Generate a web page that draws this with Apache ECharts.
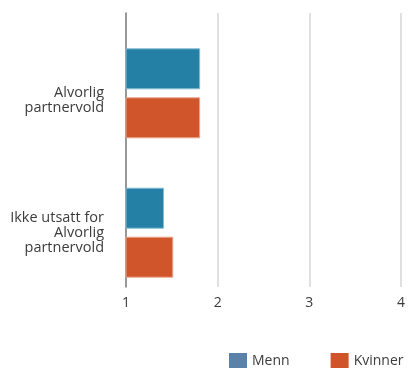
<!DOCTYPE html>
<html>
<head>
<meta charset="utf-8">
<script src="https://cdn.jsdelivr.net/npm/echarts@6/dist/echarts.min.js"></script>
<style>
  html, body { margin: 0; padding: 0; background: #ffffff; }
  #chart { width: 408px; height: 368px; }
</style>
</head>
<body>
<div id="chart"></div>
<script>
// Data
const categories = ['Alvorlig partnervold', 'Ikke utsatt for Alvorlig partnervold'];
const categoryLabels = ['\nAlvorlig\npartnervold', 'Ikke utsatt for\nAlvorlig\npartnervold'];
const seriesNames = ['Menn', 'Kvinner'];
const menn = [1.8, 1.41];
const kvinner = [1.8, 1.51];
const xTicks = [1, 2, 3, 4];

const FONT = 'Open Sans';
const TEXT = '#3c3c3c';
const chart = echarts.init(document.getElementById('chart'), null, { renderer: 'canvas' });

const xMin = xTicks[0], xMax = xTicks[xTicks.length - 1];

chart.setOption({
  animation: false,
  textStyle: { fontFamily: FONT },
  grid: [
    { left: 126, right: 4, top: 13, bottom: 81 },
    { left: 126, right: 4, top: 23.6, bottom: 65.6 }
  ],
  xAxis: [
    {
      gridIndex: 0, type: 'value', min: xMin, max: xMax, interval: 1,
      axisLine: { show: false }, axisTick: { show: false },
      splitLine: { show: true, lineStyle: { color: '#d6d6d6', width: 1.5 } },
      axisLabel: { color: TEXT, fontSize: 14, fontFamily: FONT, margin: 9 }
    },
    {
      gridIndex: 1, type: 'value', min: xMin, max: xMax, interval: 1, show: false,
      splitLine: { show: false }
    }
  ],
  yAxis: [
    {
      gridIndex: 0, type: 'category', data: categories, inverse: true,
      axisLine: { show: true, lineStyle: { color: '#808080', width: 1.5 } },
      axisTick: { show: false }, axisLabel: { show: false }
    },
    {
      gridIndex: 1, type: 'category', data: categories, inverse: true,
      axisLine: { show: false }, axisTick: { show: false },
      axisLabel: {
        color: TEXT, fontSize: 14.5, fontFamily: FONT, margin: 22, lineHeight: 15,
        align: 'right',
        formatter: (v, i) => categoryLabels[i]
      }
    }
  ],
  legend: {
    left: 229, top: 353, width: 400, padding: 0,
    itemWidth: 18, itemHeight: 16, itemGap: 41,
    icon: 'rect',
    textStyle: { color: TEXT, fontSize: 14, fontFamily: FONT },
    data: [
      { name: seriesNames[0], itemStyle: { color: '#5a82a8', borderWidth: 0 } },
      { name: seriesNames[1], itemStyle: { color: '#d0532a', borderWidth: 0 } }
    ]
  },
  series: [
    {
      name: seriesNames[0], type: 'bar', xAxisIndex: 1, yAxisIndex: 1,
      data: menn, barWidth: 41, barGap: '19.5%',
      itemStyle: { color: '#2580a6', borderColor: '#86bcd3', borderWidth: 1 }
    },
    {
      name: seriesNames[1], type: 'bar', xAxisIndex: 1, yAxisIndex: 1,
      data: kvinner, barWidth: 41, barGap: '19.5%',
      itemStyle: { color: '#d0552a', borderColor: '#eaa58c', borderWidth: 1 }
    }
  ]
});
</script>
</body>
</html>
